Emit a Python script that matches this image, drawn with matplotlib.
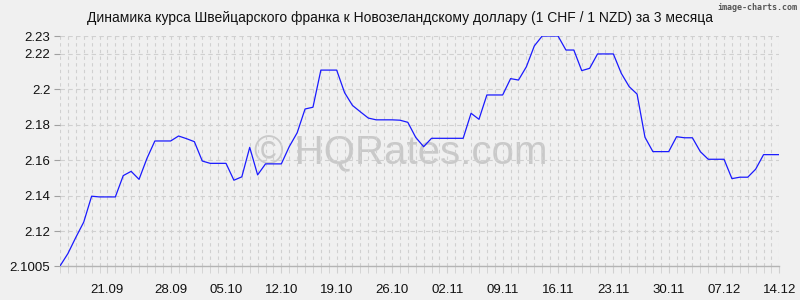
import matplotlib
matplotlib.use("Agg")
import matplotlib.pyplot as plt
import numpy as np

# CHF/NZD, one value per record (92 records, 14.09 - 14.12)
rates = [
    2.1005, 2.1075, 2.1166, 2.1252, 2.1398, 2.1394, 2.1394, 2.1394, 2.1514, 2.1538,
    2.1493, 2.1611, 2.1709, 2.1709, 2.1709, 2.1737, 2.1722, 2.1705, 2.1596, 2.1583,
    2.1583, 2.1583, 2.1488, 2.1507, 2.1673, 2.1518, 2.1580, 2.1580, 2.1580, 2.1677,
    2.1755, 2.1889, 2.1899, 2.2108, 2.2108, 2.2108, 2.1981, 2.1909, 2.1873, 2.1838,
    2.1828, 2.1828, 2.1828, 2.1826, 2.1814, 2.1729, 2.1677, 2.1724, 2.1724, 2.1724,
    2.1724, 2.1724, 2.1865, 2.1831, 2.1968, 2.1968, 2.1968, 2.2060, 2.2052, 2.2127,
    2.2244, 2.2300, 2.2300, 2.2300, 2.2221, 2.2221, 2.2105, 2.2118, 2.2199, 2.2199,
    2.2199, 2.2090, 2.2015, 2.1973, 2.1730, 2.1649, 2.1649, 2.1649, 2.1733, 2.1727,
    2.1727, 2.1649, 2.1606, 2.1606, 2.1606, 2.1497, 2.1505, 2.1505, 2.1550, 2.1632,
    2.1632, 2.1632,
]
tick_pos = [6, 14, 21, 28, 35, 42, 49, 56, 63, 70, 77, 84, 91]
tick_labels = ["21.09", "28.09", "05.10", "12.10", "19.10", "26.10", "02.11",
               "09.11", "16.11", "23.11", "30.11", "07.12", "14.12"]
y_ticks = [2.1005, 2.12, 2.14, 2.16, 2.18, 2.2, 2.22, 2.23]
y_labels = ["2.1005", "2.12", "2.14", "2.16", "2.18", "2.2", "2.22", "2.23"]

BG = "#f0f0f0"
GRID = "#d0d0d0"
plt.rcParams["font.family"] = ["Liberation Sans", "DejaVu Sans"]

fig = plt.figure(figsize=(8, 3), dpi=100, facecolor=BG)
ax = fig.add_axes([0.075, 0.1133, 0.8992, 0.7667], facecolor=BG)

x = np.arange(len(rates))
ax.plot(x, rates, color="#1a1aff", linewidth=0.9, zorder=3)

ax.set_xlim(0, len(rates) - 1)
ax.set_ylim(y_ticks[0], y_ticks[-1])

ax.set_xticks(tick_pos)
ax.set_xticklabels(tick_labels, fontsize=9.5, color="#111111")
ax.set_xticks(x, minor=True)
ax.set_yticks(y_ticks)
ax.set_yticklabels(y_labels, fontsize=9.5, color="#111111")

ax.grid(which="both", axis="x", color=GRID, linestyle=(0, (3, 3)), linewidth=0.8)
ax.grid(which="major", axis="y", color=GRID, linestyle=(0, (4, 3)), linewidth=0.8)
ax.tick_params(axis="x", which="both", length=5, color=GRID, pad=8)
ax.tick_params(axis="y", length=4, color="#a0a0a0", pad=3)

for side in ("top", "right", "left"):
    ax.spines[side].set_visible(False)
ax.spines["bottom"].set_color("#b4b4b4")
ax.spines["bottom"].set_linewidth(1.0)

fig.text(0.5, 0.94, "Динамика курса Швейцарского франка к Новозеландскому доллару (1 CHF / 1 NZD) за 3 месяца",
         ha="center", va="center", fontsize=10, color="#111111")
fig.text(0.997, 0.975, "image-charts.com", ha="right", va="center", fontsize=6,
         color="#555555", family=["DejaVu Sans Mono", "DejaVu Sans"], fontweight="bold")
ax.text(0.473, 0.49, "© HQRates.com", transform=ax.transAxes, ha="center", va="center",
        fontsize=29, color="#b0b0b0", alpha=0.6, zorder=1)

fig.savefig("out.png", dpi=100, facecolor=BG)
